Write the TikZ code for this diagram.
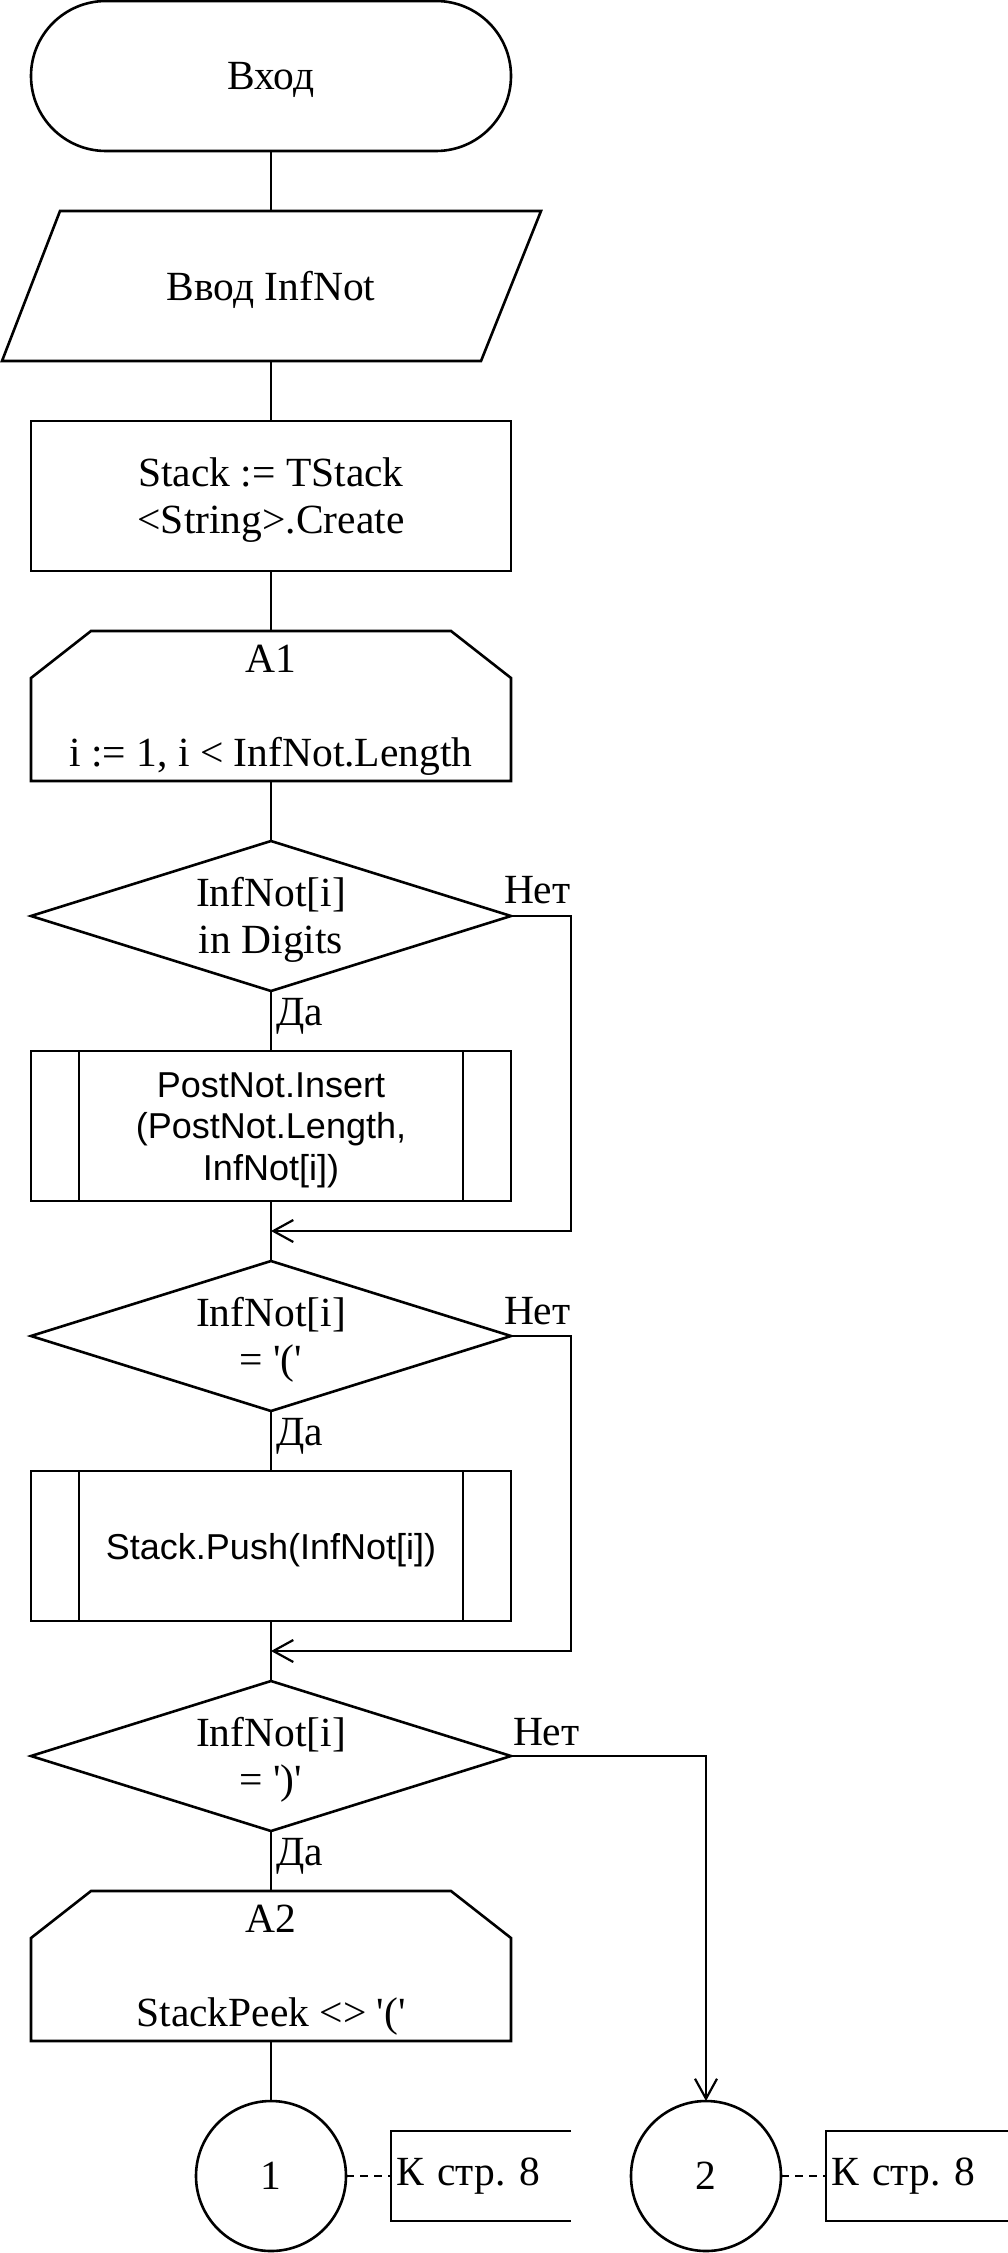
\documentclass[tikz,border=0pt]{standalone}
\usepackage{fontspec}
\setmainfont{Liberation Serif}[Ligatures=TeXOff]
\newfontfamily\sansf{Liberation Sans}[Ligatures=TeXOff]
\usetikzlibrary{calc,arrows.meta}
\frenchspacing
\tikzset{
  shp/.style={line width=2.6pt, line join=miter},
  conn/.style={line width=2.2pt},
  tip/.style={-{Straight Barb[length=20pt,width=22pt]}},
  txt/.style={font=\fontsize{41.5pt}{47pt}\selectfont, align=center, inner sep=0pt, outer sep=0pt},
  lbl/.style={txt, yshift=-4pt},
  blk/.style={inner sep=0pt, outer sep=0pt, minimum width=480pt, minimum height=150pt},
  sans/.style={font=\sansf\fontsize{36pt}{41.5pt}\selectfont},
  conn2/.style={circle, draw, shp, txt, minimum size=150pt},
  cmt/.style={txt, anchor=west, minimum height=90pt, align=left, inner xsep=5pt},
}
\begin{document}
\begin{tikzpicture}[x=1pt,y=-1pt]
\useasboundingbox (0,0) rectangle (1008,2253);

% terminal
\node[blk, draw, shp, rounded corners=75pt] (start) at (271,76) {};
\node[lbl] (tstart) at (start.center) {Вход};

% input
\node[blk] (inp) at (271,286) {};
\draw[shp] ($(inp.north west)+(29,0)$) -- ($(inp.north east)+(30,0)$) -- ($(inp.south east)+(-30,0)$) -- ($(inp.south west)+(-29,0)$) -- cycle;
\node[lbl] (tinp) at (inp.center) {Ввод InfNot};

% process
\node[blk, draw, shp] (init) at (271,496) {};
\node[lbl] (tinit) at (init.center) {Stack := TStack\\<String>.Create};

% loop A1
\node[blk] (loop1) at (271,706) {};
\draw[shp] (loop1.south west) -- ($(loop1.north west)+(0,47)$) -- ($(loop1.north west)+(60,0)$) -- ($(loop1.north east)+(-60,0)$) -- ($(loop1.north east)+(0,47)$) -- (loop1.south east) -- cycle;
\node[lbl] (tloop1) at (loop1.center) {A1\\[47pt]i := 1, i < InfNot.Length};

% decision 1
\node[blk] (d1) at (271,916) {};
\draw[shp] (d1.north) -- (d1.east) -- (d1.south) -- (d1.west) -- cycle;
\node[lbl] (td1) at (d1.center) {InfNot[i]\\in Digits};

% subroutine 1
\node[blk, draw, shp] (s1) at (271,1126) {};
\draw[shp] ($(s1.north west)+(48,0)$) -- ($(s1.south west)+(48,0)$);
\draw[shp] ($(s1.north east)+(-48,0)$) -- ($(s1.south east)+(-48,0)$);
\node[lbl, sans] (ts1) at (s1.center) {PostNot.Insert\\(PostNot.Length,\\InfNot[i])};

% decision 2
\node[blk] (d2) at (271,1336) {};
\draw[shp] (d2.north) -- (d2.east) -- (d2.south) -- (d2.west) -- cycle;
\node[lbl] (td2) at (d2.center) {InfNot[i]\\= '('};

% subroutine 2
\node[blk, draw, shp] (s2) at (271,1546) {};
\draw[shp] ($(s2.north west)+(48,0)$) -- ($(s2.south west)+(48,0)$);
\draw[shp] ($(s2.north east)+(-48,0)$) -- ($(s2.south east)+(-48,0)$);
\node[lbl, sans] (ts2) at (s2.center) {Stack.Push(InfNot[i])};

% decision 3
\node[blk] (d3) at (271,1756) {};
\draw[shp] (d3.north) -- (d3.east) -- (d3.south) -- (d3.west) -- cycle;
\node[lbl] (td3) at (d3.center) {InfNot[i]\\= ')'};

% loop A2
\node[blk] (loop2) at (271,1966) {};
\draw[shp] (loop2.south west) -- ($(loop2.north west)+(0,47)$) -- ($(loop2.north west)+(60,0)$) -- ($(loop2.north east)+(-60,0)$) -- ($(loop2.north east)+(0,47)$) -- (loop2.south east) -- cycle;
\node[lbl] (tloop2) at (loop2.center) {A2\\[47pt]StackPeek <> '('};

% connectors (page)
\node[conn2] (c1) at (271,2176) {1};
\node[conn2] (c2) at (706,2176) {2};

% comments
\node[cmt, text width=170pt] (k1) at (391,2176) {К стр. 8};
\node[cmt, text width=172pt] (k2) at (826,2176) {К стр. 8};
\draw[shp] (k1.north east) -- (k1.north west) -- (k1.south west) -- (k1.south east);
\draw[shp] (k2.north east) -- (k2.north west) -- (k2.south west) -- (k2.south east);
\draw[conn, dash pattern=on 8pt off 6pt] (c1.east) -- (k1.west);
\draw[conn, dash pattern=on 8pt off 6pt] (c2.east) -- (k2.west);

% merge points
\coordinate (m1) at (271,1231);
\coordinate (m2) at (271,1651);

% flow lines
\draw[conn] (start.south) -- (inp.north);
\draw[conn] (inp.south) -- (init.north);
\draw[conn] (init.south) -- (loop1.north);
\draw[conn] (loop1.south) -- (d1.north);
\draw[conn] (d1.south) -- (s1.north);
\draw[conn] (s1.south) -- (d2.north);
\draw[conn] (d2.south) -- (s2.north);
\draw[conn] (s2.south) -- (d3.north);
\draw[conn] (d3.south) -- (loop2.north);
\draw[conn] (loop2.south) -- (c1.north);
\draw[conn, tip] (d1.east) -- ++(60,0) |- (m1);
\draw[conn, tip] (d2.east) -- ++(60,0) |- (m2);
\draw[conn, tip] (d3.east) -| (c2.north);

% labels
\node[txt, anchor=base west] (yes1) at ($(d1.south)+(5,34)$) {Да};
\node[txt, anchor=base west] (yes2) at ($(d2.south)+(5,34)$) {Да};
\node[txt, anchor=base west] (yes3) at ($(d3.south)+(5,34)$) {Да};
\node[txt, anchor=base west] (no1) at ($(d1.east)+(-7,-13)$) {Нет};
\node[txt, anchor=base west] (no2) at ($(d2.east)+(-7,-12)$) {Нет};
\node[txt, anchor=base west] (no3) at ($(d3.east)+(2,-11)$) {Нет};
\end{tikzpicture}
\end{document}
